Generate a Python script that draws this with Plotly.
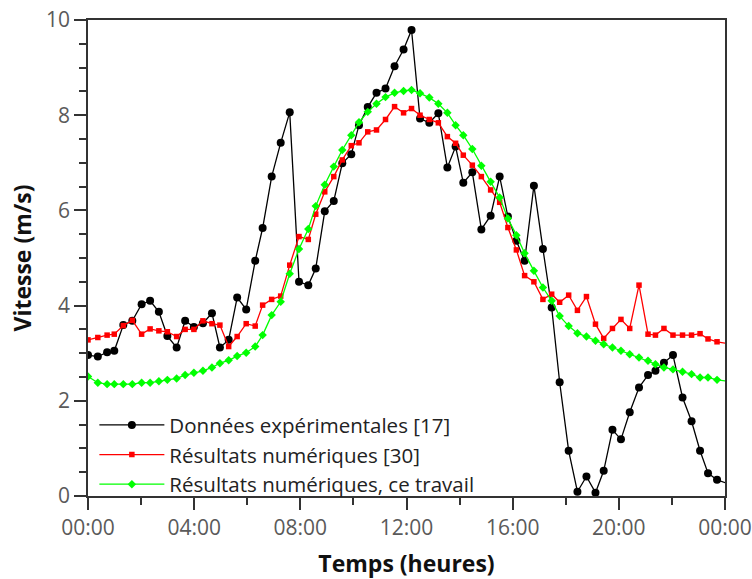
import plotly.graph_objects as go

# Time of day (hours)
hours = [0.0, 0.37, 0.72, 0.99, 1.33, 1.67, 2.02, 2.34, 2.67, 2.99,
         3.34, 3.66, 3.99, 4.33, 4.67, 4.97, 5.30, 5.62, 5.96, 6.30,
         6.58, 6.92, 7.26, 7.60, 7.95, 8.30, 8.58, 8.92, 9.26, 9.58,
         9.92, 10.21, 10.54, 10.87, 11.21, 11.55, 11.89, 12.19, 12.51, 12.86,
         13.20, 13.54, 13.85, 14.14, 14.48, 14.82, 15.17, 15.51, 15.82, 16.14,
         16.45, 16.80, 17.14, 17.47, 17.77, 18.11, 18.44, 18.78, 19.12, 19.43,
         19.76, 20.08, 20.41, 20.76, 21.10, 21.38, 21.70, 22.04, 22.40, 22.74,
         23.06, 23.36, 23.70, 24.30]

experimental = [2.96, 2.93, 3.02, 3.05, 3.59, 3.68, 4.03, 4.10, 3.87, 3.36,
                3.12, 3.68, 3.55, 3.63, 3.84, 3.12, 3.28, 4.17, 3.92, 4.94,
                5.63, 6.71, 7.42, 8.06, 4.50, 4.43, 4.78, 5.98, 6.20, 6.99,
                7.18, 7.79, 8.17, 8.47, 8.56, 9.03, 9.38, 9.79, 7.93, 7.84,
                8.04, 6.90, 7.34, 6.58, 6.80, 5.60, 5.89, 6.71, 5.87, 5.36,
                4.94, 6.52, 5.19, 3.96, 2.39, 0.95, 0.09, 0.41, 0.07, 0.53,
                1.39, 1.19, 1.76, 2.28, 2.54, 2.63, 2.80, 2.96, 2.07, 1.57,
                0.95, 0.48, 0.34, 0.22]

numerical_ref30 = [3.28, 3.33, 3.38, 3.40, 3.58, 3.69, 3.40, 3.51, 3.47, 3.45,
                   3.35, 3.50, 3.50, 3.68, 3.62, 3.59, 3.14, 3.35, 3.62, 3.57,
                   4.01, 4.13, 4.20, 4.85, 5.45, 5.39, 5.92, 6.39, 6.71, 7.06,
                   7.36, 7.42, 7.65, 7.69, 7.91, 8.18, 8.05, 8.14, 8.00, 7.91,
                   7.84, 7.55, 7.41, 7.16, 6.95, 6.71, 6.43, 6.17, 5.64, 5.17,
                   4.63, 4.50, 4.13, 4.24, 4.07, 4.22, 3.90, 4.19, 3.61, 3.31,
                   3.52, 3.71, 3.52, 4.43, 3.40, 3.38, 3.52, 3.38, 3.38, 3.38,
                   3.41, 3.30, 3.24, 3.18]

numerical_this = [2.51, 2.38, 2.35, 2.35, 2.35, 2.35, 2.38, 2.38, 2.41, 2.44,
                  2.47, 2.54, 2.59, 2.63, 2.70, 2.79, 2.85, 2.94, 3.01, 3.14,
                  3.38, 3.80, 4.08, 4.67, 5.19, 5.61, 6.09, 6.54, 6.92, 7.27,
                  7.58, 7.85, 8.07, 8.24, 8.38, 8.47, 8.51, 8.53, 8.46, 8.37,
                  8.24, 8.05, 7.79, 7.58, 7.29, 6.94, 6.60, 6.27, 5.83, 5.48,
                  5.10, 4.73, 4.38, 4.10, 3.78, 3.57, 3.42, 3.35, 3.26, 3.19,
                  3.12, 3.05, 2.98, 2.91, 2.84, 2.77, 2.70, 2.66, 2.61, 2.56,
                  2.49, 2.49, 2.44, 2.40]

x_tickvals = [0, 4, 8, 12, 16, 20, 24]
x_ticktext = ["00:00", "04:00", "08:00", "12:00", "16:00", "20:00", "00:00"]
y_tickvals = [0, 2, 4, 6, 8, 10]

names = ["Données expérimentales [17]",
         "Résultats numériques [30]",
         "Résultats numériques, ce travail"]

FONT = "Open Sans"
AX = "#333333"

fig = go.Figure()
fig.add_trace(go.Scatter(
    x=hours, y=experimental, name=names[0], mode="lines+markers",
    line=dict(color="black", width=1.3),
    marker=dict(symbol="circle", size=8, color="black")))
fig.add_trace(go.Scatter(
    x=hours, y=numerical_ref30, name=names[1], mode="lines+markers",
    line=dict(color="#ff0000", width=1.3),
    marker=dict(symbol="square", size=5.5, color="#ff0000")))
fig.add_trace(go.Scatter(
    x=hours, y=numerical_this, name=names[2], mode="lines+markers",
    line=dict(color="#00ff00", width=1.3),
    marker=dict(symbol="diamond", size=6.5, color="#00ff00")))

axis_common = dict(
    showline=True, linecolor=AX, linewidth=1.5, mirror=True,
    ticks="outside", ticklen=12, tickwidth=1.5, tickcolor=AX,
    showgrid=False, zeroline=False, automargin=False,
    tickfont=dict(family=FONT, size=21, color="#5a5a5a"),
)

fig.update_layout(
    width=752, height=579,
    margin=dict(l=88, r=27, t=20, b=83, pad=0, autoexpand=False),
    paper_bgcolor="white", plot_bgcolor="white",
    font=dict(family=FONT),
    xaxis=dict(
        range=[0, 24], tickmode="array", tickvals=x_tickvals, ticktext=x_ticktext,
        minor=dict(ticks="outside", ticklen=7, tickwidth=1.5, tickcolor=AX,
                   tick0=0, dtick=2),
        title=dict(text="<b>Temps (heures)</b>", standoff=16,
                   font=dict(family=FONT, size=23, color="#111111")),
        **axis_common),
    yaxis=dict(
        range=[0, 10], tickmode="array", tickvals=y_tickvals,
        minor=dict(ticks="outside", ticklen=7, tickwidth=1.5, tickcolor=AX,
                   tick0=0, dtick=0.5),
        title=dict(text="<b>Vitesse (m/s)</b>", standoff=8,
                   font=dict(family=FONT, size=23, color="#111111")),
        **axis_common),
    legend=dict(
        x=0.01, y=-0.017, xanchor="left", yanchor="bottom",
        bgcolor="rgba(0,0,0,0)", borderwidth=0,
        font=dict(family=FONT, size=20.5, color="#222222"),
        itemwidth=65, tracegroupgap=0),
    showlegend=True,
)

fig.write_html("out.html")
